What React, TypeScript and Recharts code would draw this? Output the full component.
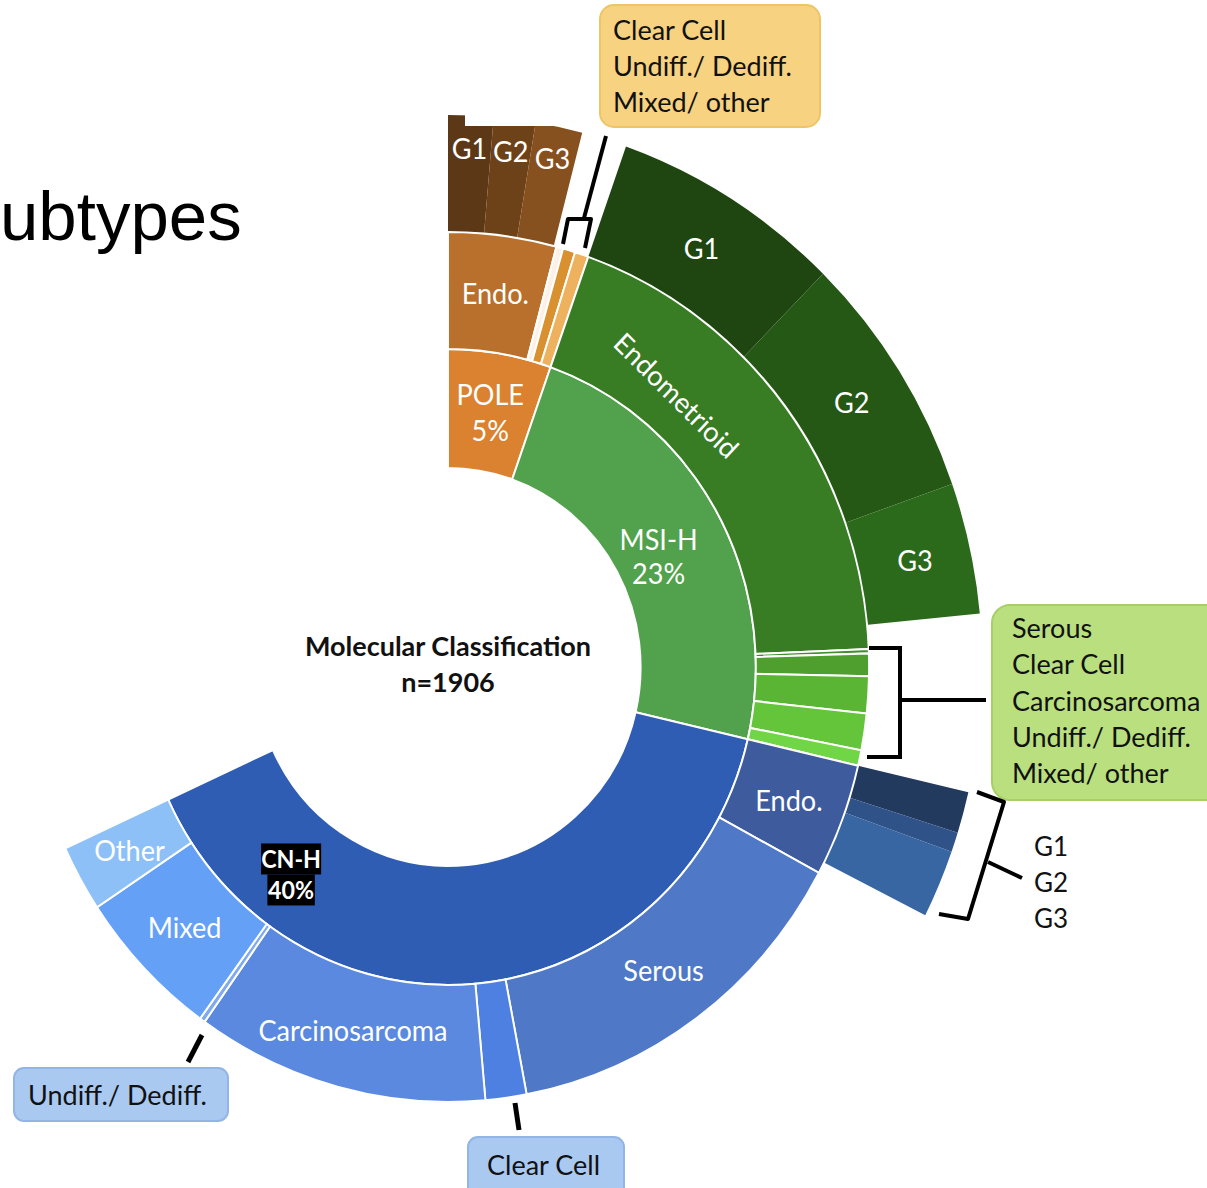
import React from "react";
import { PieChart, Pie, Cell } from "recharts";

const FONT = "Lato, 'Open Sans', sans-serif";
const CX = 448;
const CY = 667;
// the source picture is slightly squeezed horizontally
const X_SQUEEZE = 0.968;
const RAD = Math.PI / 180;

// inner ring: molecular class (patients, n=1906)
const molecularNames = ["POLE", "MSI-H", "CN-H", "NSMP"];
const molecularCounts = [103, 443, 753, 607];
const molecularLabels = ["POLE\n5%", "MSI-H\n23%", "CN-H\n40%", ""];
const molecularColors = ["#DA8230", "#52A14C", "#2F5DB3", "transparent"];

// middle ring: histotype within each class
const histotypeNames = [
  "POLE Endometrioid", "POLE Clear Cell", "POLE Undiff./Dediff.", "POLE Mixed/other",
  "MSI-H Endometrioid", "MSI-H Serous", "MSI-H Clear Cell", "MSI-H Carcinosarcoma", "MSI-H Undiff./Dediff.", "MSI-H Mixed/other",
  "CN-H Endometrioid", "CN-H Serous", "CN-H Clear Cell", "CN-H Carcinosarcoma", "CN-H Undiff./Dediff.", "CN-H Mixed", "CN-H Other",
  "NSMP",
];
const histotypeCounts = [79, 5, 9, 10, 361, 3, 16, 26, 26, 11, 80, 270, 30, 214, 4, 108, 47, 607];
const histotypeLabels = [
  "Endo.", "", "", "",
  "Endometrioid", "", "", "", "", "",
  "Endo.", "Serous", "", "Carcinosarcoma", "", "Mixed", "Other",
  "",
];
const histotypeColors = [
  "#B8702C", "#FBF1E6", "#D9902E", "#EEB25F",
  "#387C23", "#42902B", "#4F9F2E", "#5BB534", "#64C43A", "#70D646",
  "#3E5C9D", "#4F78C6", "#4E80E2", "#5A89DF", "#80AAF0", "#64A0F5", "#8DC0F7",
  "transparent",
];

// outer ring: grade of the endometrioid tumours
const gradeNames = [
  "POLE G1", "POLE G2", "POLE G3", "POLE non-endo",
  "MSI-H G1", "MSI-H G2", "MSI-H G3", "MSI-H non-endo",
  "CN-H G1", "CN-H G2", "CN-H G3", "CN-H non-endo",
  "NSMP",
];
const gradeCounts = [26, 24, 27, 26, 133, 138, 73, 99, 23, 11, 38, 681, 607];
const gradeLabels = ["G1", "G2", "G3", "", "G1", "G2", "G3", "", "", "", "", "", ""];
const gradeColors = [
  "#5D3816", "#6E4218", "#87501F", "transparent",
  "#1F4611", "#255815", "#2C6A1B", "transparent",
  "#213A5E", "#2F5389", "#3866A3", "transparent",
  "transparent",
];

type Nudge = { angle?: number; r?: number; rotate?: number; boxed?: boolean; lineGap?: number };

// label placement tweaks (angle clockwise from 12 o'clock, r = fraction of ring width)
const labelNudges: Record<string, Nudge> = {
  "POLE G1": { r: 0.72 },
  "POLE G2": { r: 0.72 },
  "POLE G3": { r: 0.72 },
  "MSI-H Endometrioid": { angle: 41, r: 0.36, rotate: 44 },
  "CN-H": { angle: 218, r: 0.54, boxed: true, lineGap: 31 },
  POLE: { lineGap: 36 },
  "MSI-H": { angle: 63, r: 0.38, lineGap: 34 },
};

const toRows = (names: string[], counts: number[]) =>
  names.map((name, i) => ({ name, value: counts[i] }));

function makeLabel(names: string[], labels: string[]) {
  return (props: any) => {
    const { cx, cy, midAngle, innerRadius, outerRadius, index } = props;
    const text = labels[index];
    if (!text) return null;
    const nudge = labelNudges[names[index]] || {};
    const a = nudge.angle !== undefined ? 90 - nudge.angle : midAngle;
    const r = innerRadius + (outerRadius - innerRadius) * (nudge.r ?? 0.5);
    const x = cx + r * Math.cos(-a * RAD);
    const y = cy + r * Math.sin(-a * RAD);
    const lines = text.split("\n");
    const gap = nudge.lineGap ?? 34;
    return (
      <g key={`lbl-${index}`} transform={nudge.rotate ? `rotate(${nudge.rotate} ${x} ${y})` : undefined}>
        {lines.map((ln, i) => {
          const ly = y + (i - (lines.length - 1) / 2) * gap;
          const w = ln.length * 13 + 10;
          return (
            <g key={i}>
              {nudge.boxed && <rect x={x - w / 2} y={ly - 15.5} width={w} height={31} fill="#000" />}
              <text
                x={x}
                y={ly}
                textAnchor="middle"
                dominantBaseline="central"
                fill="#fff"
                fontSize={nudge.boxed ? 24 : 28}
                fontWeight={nudge.boxed ? 700 : 400}
                fontFamily={FONT}
              >
                {ln}
              </text>
            </g>
          );
        })}
      </g>
    );
  };
}

const blue = "#A9C9F1";

export default function App() {
  return (
    <div style={{ position: "absolute", left: 0, top: 0, width: 1207, height: 1188, overflow: "hidden", background: "#fff" }}>
      <div style={{ position: "absolute", left: 0, top: 0, transform: `scaleX(${X_SQUEEZE})`, transformOrigin: `${CX}px ${CY}px` }}>
        <PieChart width={1207} height={1188} margin={{ top: 0, right: 0, bottom: 0, left: 0 }}>
          <Pie
            data={toRows(molecularNames, molecularCounts)}
            dataKey="value"
            cx={CX}
            cy={CY}
            innerRadius={199}
            outerRadius={318}
            startAngle={90}
            endAngle={-270}
            stroke="#fff"
            strokeWidth={2}
            isAnimationActive={false}
            labelLine={false}
            label={makeLabel(molecularNames, molecularLabels)}
          >
            {molecularColors.map((c, i) => (
              <Cell key={`m-${i}`} fill={c} stroke={c === "transparent" ? "none" : "#fff"} />
            ))}
          </Pie>
          <Pie
            data={toRows(histotypeNames, histotypeCounts)}
            dataKey="value"
            cx={CX}
            cy={CY}
            innerRadius={318}
            outerRadius={435}
            startAngle={90}
            endAngle={-270}
            stroke="#fff"
            strokeWidth={2}
            isAnimationActive={false}
            labelLine={false}
            label={makeLabel(histotypeNames, histotypeLabels)}
          >
            {histotypeColors.map((c, i) => (
              <Cell key={`h-${i}`} fill={c} stroke={c === "transparent" ? "none" : "#fff"} />
            ))}
          </Pie>
          <Pie
            data={toRows(gradeNames, gradeCounts)}
            dataKey="value"
            cx={CX}
            cy={CY}
            innerRadius={436}
            outerRadius={552}
            startAngle={90}
            endAngle={-270}
            stroke="none"
            isAnimationActive={false}
            labelLine={false}
            label={makeLabel(gradeNames, gradeLabels)}
          >
            {gradeColors.map((c, i) => (
              <Cell key={`g-${i}`} fill={c} stroke="none" />
            ))}
          </Pie>
        </PieChart>
      </div>

      <svg width={1207} height={1188} style={{ position: "absolute", left: 0, top: 0 }} fontFamily={FONT}>
        {/* slide remnants */}
        <rect x={465} y={0} width={120} height={126} fill="#fff" />
        <text x={0} y={240} fontFamily="'Liberation Sans', Arial, sans-serif" fontSize={69} fill="#000">
          ubtypes
        </text>

        {/* centre title */}
        <text x={CX} y={645} textAnchor="middle" dominantBaseline="central" fontSize={27} fontWeight={700} fill="#111">
          Molecular Classification
        </text>
        <text x={CX} y={681} textAnchor="middle" dominantBaseline="central" fontSize={27} fontWeight={700} fill="#111">
          n=1906
        </text>

        {/* POLE non-endometrioid callout */}
        <rect x={600} y={5} width={220} height={122} rx={14} fill="#F7D280" stroke="#EFC466" strokeWidth={2} />
        {["Clear Cell", "Undiff./ Dediff.", "Mixed/ other"].map((t, i) => (
          <text key={t} x={613} y={40 + i * 36} fontSize={27} fill="#111">
            {t}
          </text>
        ))}
        <path d="M606,136 L584,218" stroke="#000" strokeWidth={4} fill="none" />
        <path d="M563,244 L568,219 L591,219 L585,248" stroke="#000" strokeWidth={4} fill="none" strokeLinejoin="round" />

        {/* MSI-H non-endometrioid callout */}
        <rect x={992} y={605} width={232} height={195} rx={18} fill="#B9DF7F" stroke="#A6CF68" strokeWidth={2} />
        {["Serous", "Clear Cell", "Carcinosarcoma", "Undiff./ Dediff.", "Mixed/ other"].map((t, i) => (
          <text key={t} x={1012} y={638 + i * 36.3} fontSize={27} fill="#111">
            {t}
          </text>
        ))}
        <path d="M869,648 L900,648 L900,757 L867,757" stroke="#000" strokeWidth={4} fill="none" />
        <path d="M900,700 L986,700" stroke="#000" strokeWidth={4} fill="none" />

        {/* CN-H grade bracket */}
        <path d="M977,792 L1004,802 L968,919 L939,914" stroke="#000" strokeWidth={4} fill="none" strokeLinejoin="round" />
        <path d="M988,862 L1022,878" stroke="#000" strokeWidth={4} fill="none" />
        {["G1", "G2", "G3"].map((t, i) => (
          <text key={t} x={1034} y={856 + i * 36} fontSize={26} fill="#111">
            {t}
          </text>
        ))}

        {/* CN-H small histotype callouts */}
        <rect x={14} y={1068} width={214} height={53} rx={10} fill={blue} stroke="#92B5E6" strokeWidth={2} />
        <text x={28} y={1105} fontSize={27} fill="#111">
          Undiff./ Dediff.
        </text>
        <path d="M202,1035 L188,1062" stroke="#000" strokeWidth={5} fill="none" />

        <rect x={468} y={1137} width={156} height={62} rx={10} fill={blue} stroke="#92B5E6" strokeWidth={2} />
        <text x={487} y={1175} fontSize={27} fill="#111">
          Clear Cell
        </text>
        <path d="M515,1103 L519,1130" stroke="#000" strokeWidth={5} fill="none" />
      </svg>
    </div>
  );
}
